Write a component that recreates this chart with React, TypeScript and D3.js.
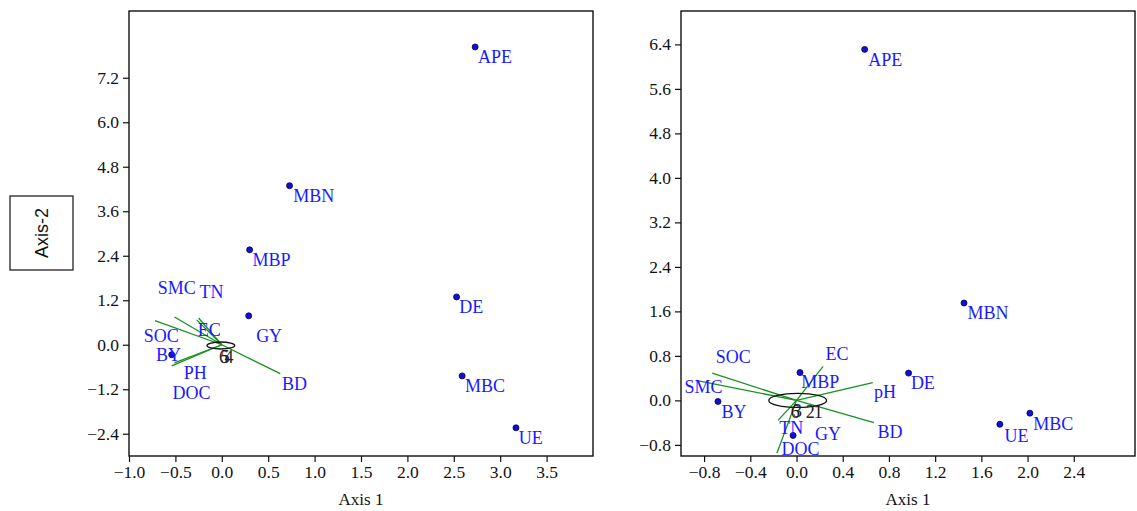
import React, { useEffect, useRef } from 'react';
import * as d3 from 'd3';

// ---- left biplot ----
const leftPointNames = ['APE', 'MBN', 'MBP', 'DE', 'GY', 'MBC', 'UE', 'BY'];
const leftPointX = [2.73, 0.73, 0.3, 2.53, 0.29, 2.59, 3.17, -0.54];
const leftPointY = [8.03, 4.29, 2.56, 1.29, 0.78, -0.84, -2.24, -0.27];
const leftPointLabelX = [2.76, 0.77, 0.33, 2.56, 0.37, 2.62, 3.2, -0.71];
const leftPointLabelY = [7.6, 3.85, 2.13, 0.86, 0.08, -1.27, -2.67, -0.43];

const leftVarNames = ['SMC', 'TN', 'SOC', 'EC', 'PH', 'DOC', 'BD'];
const leftVarX = [-0.51, -0.25, -0.72, -0.27, -0.54, -0.51, 0.63];
const leftVarY = [0.75, 0.72, 0.65, 0.67, -0.57, -0.49, -0.78];
const leftVarLabelX = [-0.69, -0.24, -0.84, -0.26, -0.41, -0.53, 0.65];
const leftVarLabelY = [1.37, 1.25, 0.08, 0.24, -0.92, -1.46, -1.21];

const leftGroups = ['6', '5', '4'];
const leftGroupX = [-0.03, -0.01, 0.03];
const leftGroupY = [-0.48, -0.48, -0.48];

const leftXTicks = [-1.0, -0.5, 0.0, 0.5, 1.0, 1.5, 2.0, 2.5, 3.0, 3.5];
const leftYTicks = [-2.4, -1.2, 0.0, 1.2, 2.4, 3.6, 4.8, 6.0, 7.2];

// ---- right biplot ----
const rightPointNames = ['APE', 'MBN', 'MBP', 'DE', 'BY', 'GY', 'UE', 'MBC'];
const rightPointX = [0.59, 1.45, 0.03, 0.97, -0.68, -0.03, 1.76, 2.02];
const rightPointY = [6.31, 1.75, 0.5, 0.49, -0.02, -0.63, -0.43, -0.23];
const rightPointLabelX = [0.62, 1.48, 0.04, 0.99, -0.65, 0.16, 1.8, 2.05];
const rightPointLabelY = [6.02, 1.46, 0.23, 0.2, -0.31, -0.72, -0.74, -0.54];

const rightVarNames = ['SOC', 'SMC', 'EC', 'pH', 'BD', 'TN', 'DOC'];
const rightVarX = [-0.73, -0.87, 0.23, 0.66, 0.67, -0.16, -0.17];
const rightVarY = [0.49, 0.36, 0.61, 0.32, -0.4, -0.36, -0.95];
const rightVarLabelX = [-0.7, -0.97, 0.25, 0.67, 0.7, -0.15, -0.13];
const rightVarLabelY = [0.67, 0.13, 0.72, 0.05, -0.68, -0.61, -0.99];

const rightGroups = ['6', '3', '2', '1'];
const rightGroupX = [-0.05, -0.03, 0.08, 0.15];
const rightGroupY = [-0.32, -0.3, -0.32, -0.32];

const rightXTicks = [-0.8, -0.4, 0.0, 0.4, 0.8, 1.2, 1.6, 2.0, 2.4];
const rightYTicks = [-0.8, 0.0, 0.8, 1.6, 2.4, 3.2, 4.0, 4.8, 5.6, 6.4];

const serif = 'Liberation Serif, Tinos, Times New Roman, DejaVu Serif, serif';
const labelBlue = '#1a1aff';

function Panel(props: any) {
  const xRef = useRef<SVGGElement>(null);
  const yRef = useRef<SVGGElement>(null);
  const { left, right, top, bottom } = props.frame;
  const x = d3.scaleLinear().domain(props.xDomain).range([left, right]);
  const y = d3.scaleLinear().domain(props.yDomain).range([bottom, top]);
  const fmt = d3.format('.1f');

  useEffect(() => {
    const xa = d3.select(xRef.current!);
    xa.call(d3.axisBottom(x).tickValues(props.xTicks).tickFormat(fmt as any).tickSize(6).tickPadding(4) as any);
    const ya = d3.select(yRef.current!);
    ya.call(d3.axisLeft(y).tickValues(props.yTicks).tickFormat(fmt as any).tickSize(6).tickPadding(4) as any);
    [xa, ya].forEach(a => {
      a.attr('font-family', serif).attr('font-size', 17.5);
      a.select('.domain').remove();
      a.selectAll('line').attr('stroke', '#111').attr('stroke-width', 1.2);
      a.selectAll('text').attr('fill', '#111');
    });
  });

  const ellipse = props.ellipse;

  return (
    <g>
      <rect x={left} y={top} width={right - left} height={bottom - top} fill="none" stroke="#111" strokeWidth={1.4} />
      <g ref={xRef} transform={`translate(0,${bottom})`} />
      <g ref={yRef} transform={`translate(${left},0)`} />
      <text x={(left + right) / 2} y={505} textAnchor="middle" fontFamily={serif} fontSize={17} fill="#111">Axis 1</text>

      {props.varNames.map((n: string, i: number) => (
        <line key={'v' + n} x1={x(0)} y1={y(0)} x2={x(props.varX[i])} y2={y(props.varY[i])} stroke="#14931e" strokeWidth={1.3} />
      ))}
      <ellipse cx={x(ellipse[0])} cy={y(ellipse[1])} rx={x(ellipse[2]) - x(0)} ry={y(0) - y(ellipse[3])} fill="none" stroke="#111" strokeWidth={1.3} />
      {props.groups.map((g: string, i: number) => (
        <text key={'g' + i} x={x(props.groupX[i])} y={y(props.groupY[i])} fontFamily={serif} fontSize={18} fill="#222">{g}</text>
      ))}

      {props.pointNames.map((n: string, i: number) => (
        <circle key={'p' + n} cx={x(props.pointX[i])} cy={y(props.pointY[i])} r={3} fill="#1010d8" stroke="#00004a" strokeWidth={0.8} />
      ))}
      {props.pointNames.map((n: string, i: number) => (
        <text key={'pl' + n} x={x(props.pointLabelX[i])} y={y(props.pointLabelY[i])} fontFamily={serif} fontSize={18} fill={labelBlue}>{n}</text>
      ))}
      {props.varNames.map((n: string, i: number) => (
        <text key={'vl' + n} x={x(props.varLabelX[i])} y={y(props.varLabelY[i])} fontFamily={serif} fontSize={18} fill={labelBlue}>{n}</text>
      ))}
    </g>
  );
}

export default function App() {
  return (
    <svg width={1137} height={511} style={{ position: 'absolute', left: 0, top: 0, background: '#fff' }}>
      <rect x={10} y={196} width={63} height={74} fill="#fff" stroke="#111" strokeWidth={1.2} />
      <text transform="translate(48,233) rotate(-90)" textAnchor="middle" fontFamily="Liberation Sans, Arial, sans-serif" fontSize={18} fill="#111">Axis-2</text>

      <Panel
        frame={{ left: 129, right: 593, top: 11, bottom: 456 }}
        xDomain={[-1, 4]}
        yDomain={[-3, 9]}
        xTicks={leftXTicks}
        yTicks={leftYTicks}
        pointNames={leftPointNames}
        pointX={leftPointX}
        pointY={leftPointY}
        pointLabelX={leftPointLabelX}
        pointLabelY={leftPointLabelY}
        varNames={leftVarNames}
        varX={leftVarX}
        varY={leftVarY}
        varLabelX={leftVarLabelX}
        varLabelY={leftVarLabelY}
        groups={leftGroups}
        groupX={leftGroupX}
        groupY={leftGroupY}
        ellipse={[-0.01, -0.02, 0.15, 0.094]}
      />
      <Panel
        frame={{ left: 681, right: 1135, top: 11, bottom: 456 }}
        xDomain={[-1, 2.93]}
        yDomain={[-1, 7]}
        xTicks={rightXTicks}
        yTicks={rightYTicks}
        pointNames={rightPointNames}
        pointX={rightPointX}
        pointY={rightPointY}
        pointLabelX={rightPointLabelX}
        pointLabelY={rightPointLabelY}
        varNames={rightVarNames}
        varX={rightVarX}
        varY={rightVarY}
        varLabelX={rightVarLabelX}
        varLabelY={rightVarLabelY}
        groups={rightGroups}
        groupX={rightGroupX}
        groupY={rightGroupY}
        ellipse={[0.01, 0.0, 0.25, 0.126]}
      />
    </svg>
  );
}
